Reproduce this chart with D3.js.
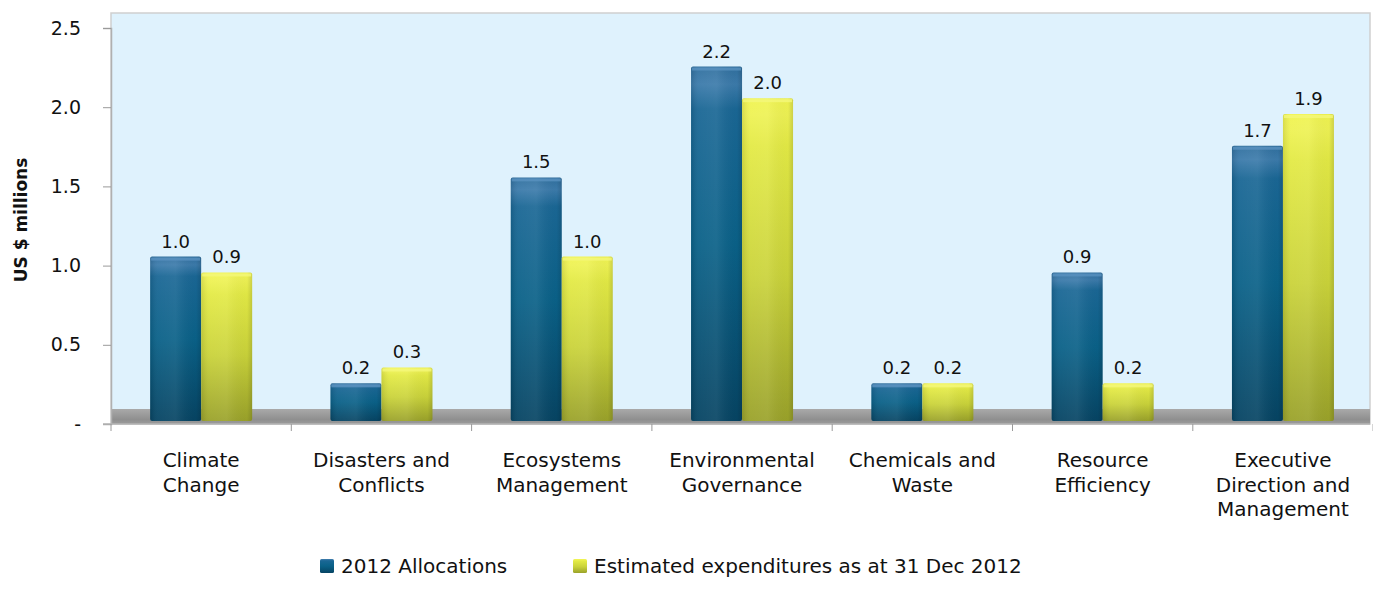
<!DOCTYPE html>
<html>
<head>
<meta charset="utf-8">
<script src="https://cdn.jsdelivr.net/npm/d3@7"></script>
<style>
  html, body { margin: 0; padding: 0; background: #ffffff; }
  svg text { font-family: "DejaVu Sans", "Noto Sans", sans-serif; fill: #111; }
</style>
</head>
<body>
<svg id="chart" width="1373" height="606"></svg>
<script>
// Budget by subprogramme, US $ millions
const categories = [
  ["Climate", "Change"],
  ["Disasters and", "Conflicts"],
  ["Ecosystems", "Management"],
  ["Environmental", "Governance"],
  ["Chemicals and", "Waste"],
  ["Resource", "Efficiency"],
  ["Executive", "Direction and", "Management"]
];
const allocations  = [1.0, 0.2, 1.5, 2.2, 0.2, 0.9, 1.7];
const expenditures = [0.9, 0.3, 1.0, 2.0, 0.2, 0.2, 1.9];
const seriesNames = ["2012 Allocations", "Estimated expenditures as at 31 Dec 2012"];
const yTicks = [0, 0.5, 1.0, 1.5, 2.0, 2.5];
const yTickLabels = ["-", "0.5", "1.0", "1.5", "2.0", "2.5"];

const svg = d3.select("#chart");
const plot = { left: 111, right: 1370, top: 13, bottom: 424 };
const depth = 9;        // back-plane lift of the 3D columns
const floorH = 15;      // visible floor band

const x0 = d3.scaleBand().domain(d3.range(categories.length))
  .range([plot.left, plot.left + 7 * 180.3]).paddingInner(0).paddingOuter(0);
const barW = 51;
const y = d3.scaleLinear().domain([0, 2.5]).range([plot.bottom, 28]);

// gradients
const defs = svg.append("defs");
function vGrad(id, stops) {
  const g = defs.append("linearGradient").attr("id", id)
    .attr("x1", 0).attr("y1", 0).attr("x2", 0).attr("y2", 1);
  stops.forEach(s => g.append("stop").attr("offset", s[0]).attr("stop-color", s[1]));
}
vGrad("gBlue", [[0, "#2f6f9e"], [0.05, "#3c7bab"], [0.12, "#1a6795"], [0.5, "#0a6188"], [1, "#064463"]]);
vGrad("gYellow", [[0, "#f0f450"], [0.05, "#eef254"], [0.15, "#e3ea45"], [0.55, "#cad33a"], [1, "#9aa22a"]]);
vGrad("gFloor", [[0, "#a9a9a9"], [0.7, "#8f8f8f"], [1, "#9c9c9c"]]);
const hShade = defs.append("linearGradient").attr("id", "gShade")
  .attr("x1", 0).attr("y1", 0).attr("x2", 1).attr("y2", 0);
[[0, "rgba(0,0,0,0.10)"], [0.15, "rgba(255,255,255,0.05)"], [0.5, "rgba(255,255,255,0.08)"], [0.9, "rgba(0,0,0,0.02)"], [1, "rgba(0,0,0,0.14)"]]
  .forEach(s => hShade.append("stop").attr("offset", s[0]).attr("stop-color", s[1]));

// plot background and wall border
svg.append("rect")
  .attr("x", plot.left).attr("y", plot.top)
  .attr("width", plot.right - plot.left).attr("height", plot.bottom - plot.top)
  .attr("fill", "#dff2fd").attr("stroke", "#cfcfcf").attr("stroke-width", 1.5);

// floor
svg.append("rect")
  .attr("x", plot.left).attr("y", plot.bottom - floorH)
  .attr("width", plot.right - plot.left).attr("height", floorH)
  .attr("fill", "url(#gFloor)");

// columns
const series = [
  { values: allocations, fill: "url(#gBlue)", cap: "#5a92c0", dx: -barW },
  { values: expenditures, fill: "url(#gYellow)", cap: "#f4f77a", dx: 0 }
];
const barBottom = plot.bottom - 3;
series.forEach(s => {
  const g = svg.append("g");
  s.values.forEach((v, i) => {
    const cx = x0(i) + x0.bandwidth() / 2;
    const top = y(v) - depth;
    g.append("rect").attr("x", cx + s.dx).attr("y", top)
      .attr("width", barW).attr("height", barBottom - top)
      .attr("rx", 2).attr("fill", s.fill);
    g.append("rect").attr("x", cx + s.dx).attr("y", top)
      .attr("width", barW).attr("height", barBottom - top)
      .attr("rx", 2).attr("fill", "url(#gShade)");
    g.append("rect").attr("x", cx + s.dx + 1).attr("y", top + 1)
      .attr("width", barW - 2).attr("height", 3)
      .attr("fill", s.cap).attr("opacity", 0.8);
    g.append("text")
      .attr("x", cx + s.dx + barW / 2).attr("y", top - 9)
      .attr("text-anchor", "middle").attr("font-size", 18)
      .text(v.toFixed(1));
  });
});

// y axis
const yAxis = d3.axisLeft(y).tickValues(yTicks)
  .tickFormat((d, i) => yTickLabels[i]).tickSize(8).tickPadding(22);
const gy = svg.append("g").attr("transform", `translate(${plot.left},0)`).call(yAxis);
gy.select(".domain").attr("stroke", "#b0b0b0").attr("stroke-width", 1.5);
gy.selectAll(".tick line").attr("stroke", "#9a9a9a");
gy.selectAll(".tick text").attr("font-size", 19)
  .attr("fill", "#111").style("font-family", "'DejaVu Sans', sans-serif");

// x axis baseline and separators
const xEdges = d3.range(categories.length + 1).map(i => plot.left + i * x0.bandwidth());
svg.append("line").attr("x1", plot.left - 8).attr("x2", plot.right)
  .attr("y1", plot.bottom).attr("y2", plot.bottom)
  .attr("stroke", "#b5b5b5").attr("stroke-width", 1.5);
svg.selectAll(".xtick").data(xEdges).join("line")
  .attr("x1", d => d).attr("x2", d => d)
  .attr("y1", plot.bottom).attr("y2", plot.bottom + 7)
  .attr("stroke", "#9a9a9a");

// category labels
categories.forEach((lines, i) => {
  const t = svg.append("text")
    .attr("x", x0(i) + x0.bandwidth() / 2).attr("y", 467)
    .attr("text-anchor", "middle").attr("font-size", 20);
  lines.forEach((l, k) => t.append("tspan")
    .attr("x", x0(i) + x0.bandwidth() / 2).attr("dy", k === 0 ? 0 : 24.5).text(l));
});

// y axis title
svg.append("text")
  .attr("transform", "translate(27,220) rotate(-90)")
  .attr("text-anchor", "middle").attr("font-size", 17).attr("font-weight", "bold")
  .text("US $ millions");

// legend
const legend = [
  { x: 320, fill: "url(#gBlue)", name: seriesNames[0] },
  { x: 573, fill: "url(#gYellow)", name: seriesNames[1] }
];
legend.forEach(l => {
  svg.append("rect").attr("x", l.x).attr("y", 559).attr("width", 14).attr("height", 14)
    .attr("rx", 1.5).attr("fill", l.fill);
  svg.append("text").attr("x", l.x + 21).attr("y", 573)
    .attr("font-size", 20).text(l.name);
});
</script>
</body>
</html>
